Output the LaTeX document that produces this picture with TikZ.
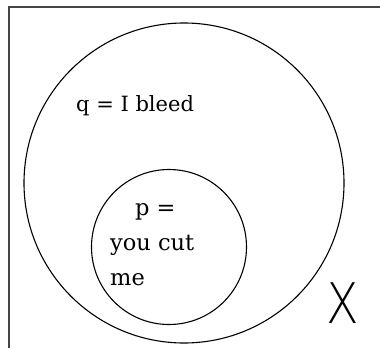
\documentclass[tikz,border=0pt]{standalone}
\usepackage{fontspec}
\setmainfont{DejaVu Serif}
\newfontfamily\thinfont{DejaVu Sans ExtraLight}
\usepackage{tikz}
\usetikzlibrary{positioning}
\definecolor{framegray}{RGB}{70, 70, 70}

\begin{document}
\begin{tikzpicture}[x=1pt, y=-1pt,
    frame/.style={draw=framegray, line width=1.6pt},
    setcircle/.style={circle, draw=black, line width=1.1pt, inner sep=0pt},
    setlabel/.style={inner sep=0pt, font=\fontsize{21}{34}\selectfont},
    universe/.style={inner sep=0pt, font=\thinfont\fontsize{56}{56}\selectfont, xscale=0.85}]
    \useasboundingbox (0,0) rectangle (380,348);

    \draw [frame] (9,348) -- (9,7) -- (380,7);

    \node [setcircle, minimum size=320pt] (q) at (184,183) {};
    \node [setcircle, minimum size=155pt] (p) at (169,247) {};

    \node [setlabel, anchor=base west] (qlabel) at (76,111) {q = I bleed};
    \node [setlabel, anchor=north west, align=left, font=\fontsize{22.5}{35}\selectfont] (plabel) at (110,203) {\hspace{25pt}p =\\you cut\\me};

    \node [universe] (X) at (343,303) {X};
\end{tikzpicture}
\end{document}
